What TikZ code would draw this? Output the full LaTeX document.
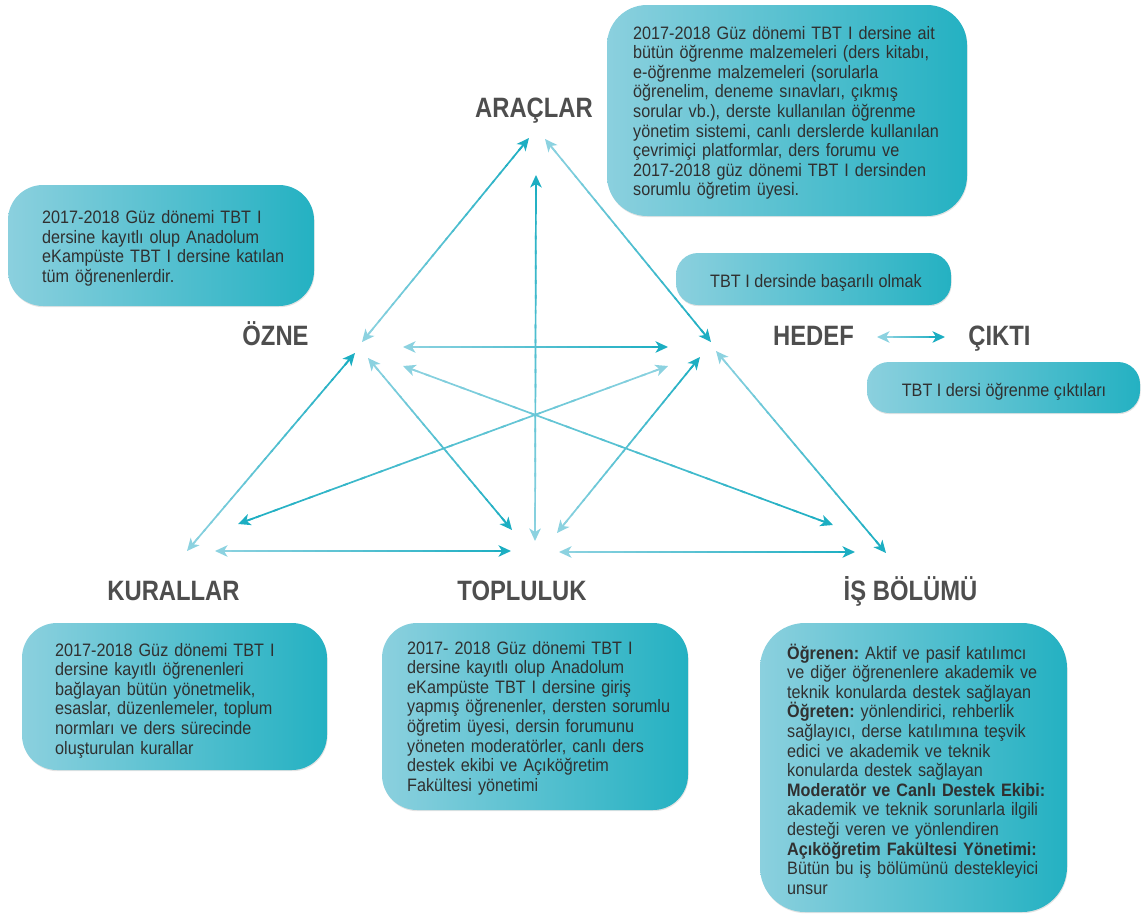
\documentclass[tikz,border=0pt]{standalone}
\usepackage{fontspec}
\setmainfont{Liberation Sans}[FakeStretch=0.9]
\newfontfamily\headfont{Liberation Sans}[FakeStretch=0.85]
\usetikzlibrary{arrows.meta,calc,shadows}

\definecolor{alight}{RGB}{140,210,224}
\definecolor{adark}{RGB}{28,174,194}
\definecolor{boxl}{RGB}{139,208,222}
\definecolor{boxr}{RGB}{36,177,194}
\definecolor{bodytext}{RGB}{48,48,48}
\definecolor{headtext}{RGB}{78,78,78}

\tikzset{
  panel/.style={rounded corners=#1, left color=boxl, right color=boxr, draw=none,
    inner sep=0pt,
    drop shadow={shadow xshift=0.6pt, shadow yshift=-1.2pt, opacity=0.22}},
  panel/.default=35pt,
  body/.style={font=\fontsize{18}{19.6}\selectfont, text=bodytext, align=left,
    text width=340pt, inner sep=0pt, anchor=base west},
  oneline/.style={font=\fontsize{18}{19.6}\selectfont, text=bodytext,
    inner sep=0pt, anchor=base},
  head/.style={font=\headfont\bfseries\fontsize{28}{30}\selectfont, text=headtext,
    inner sep=0pt, anchor=base},
  link/.style={line width=1.7pt},
}

% two-tone connector: light end #1, dark end #2
\newcommand\fadelink[2]{%
  \coordinate (fl-a) at ($(#1)!5pt!(#2)$);
  \coordinate (fl-b) at ($(#2)!5pt!(#1)$);
  \foreach \k in {0,...,23}{%
    \pgfmathsetmacro\ta{\k/24}%
    \pgfmathsetmacro\tb{min(1,(\k+1.25)/24)}%
    \pgfmathtruncatemacro\pc{100*(\k+0.5)/24}%
    \draw[link, draw=adark!\pc!alight] ($(fl-a)!\ta!(fl-b)$) -- ($(fl-a)!\tb!(fl-b)$);
  }%
  \draw[link, alight, ->] ($(#1)!16pt!(#2)$) -- (#1);
  \draw[link, adark, ->] ($(#2)!16pt!(#1)$) -- (#2);
}

\begin{document}
\begin{tikzpicture}[x=1pt, y=-1pt, >={Stealth[length=12.5pt,width=11.5pt,inset=3.5pt]}]
\useasboundingbox (0,0) rectangle (1143,913);

% ---------- description panels ----------
\node[panel=40pt, minimum width=360pt, minimum height=211pt] (b-arac) at (787,110.5) {};
\node[body] (t-arac) at (633,39) {2017-2018 Güz dönemi TBT I dersine ait\\
bütün öğrenme malzemeleri (ders kitabı,\\
e-öğrenme malzemeleri (sorularla\\
öğrenelim, deneme sınavları, çıkmış\\
sorular vb.), derste kullanılan öğrenme\\
yönetim sistemi, canlı derslerde kullanılan\\
çevrimiçi platformlar, ders forumu ve\\
2017-2018 güz dönemi TBT I dersinden\\
sorumlu öğretim üyesi.};

\node[panel=35pt, minimum width=306pt, minimum height=121pt] (b-ozne) at (161,245.5) {};
\node[body] (t-ozne) at (42,223.5) {2017-2018 Güz dönemi TBT I\\
dersine kayıtlı olup Anadolum\\
eKampüste TBT I dersine katılan\\
tüm öğrenenlerdir.};

\node[panel=22pt, minimum width=275pt, minimum height=52pt] (b-hedef) at (813.5,279) {};
\node[oneline] (t-hedef) at (816,287) {TBT I dersinde başarılı olmak};

\node[panel=22pt, minimum width=273pt, minimum height=51pt] (b-cikti) at (1003.5,387.5) {};
\node[oneline] (t-cikti) at (1004,396) {TBT I dersi öğrenme çıktıları};

\node[panel=35pt, minimum width=305pt, minimum height=147pt] (b-kural) at (174.5,696.5) {};
\node[body] (t-kural) at (55,656) {2017-2018 Güz dönemi TBT I\\
dersine kayıtlı öğrenenleri\\
bağlayan bütün yönetmelik,\\
esaslar, düzenlemeler, toplum\\
normları ve ders sürecinde\\
oluşturulan kurallar};

\node[panel=35pt, minimum width=306pt, minimum height=187pt] (b-toplu) at (535,716.5) {};
\node[body] (t-toplu) at (407,654) {2017- 2018 Güz dönemi TBT I\\
dersine kayıtlı olup Anadolum\\
eKampüste TBT I dersine giriş\\
yapmış öğrenenler, dersten sorumlu\\
öğretim üyesi, dersin forumunu\\
yöneten moderatörler, canlı ders\\
destek ekibi ve Açıköğretim\\
Fakültesi yönetimi};

\node[panel=45pt, minimum width=307pt, minimum height=289pt] (b-isbol) at (913.5,767.5) {};
\node[body] (t-isbol) at (787,659) {\textbf{Öğrenen:}~Aktif ve pasif katılımcı\\
ve diğer öğrenenlere akademik ve\\
teknik konularda destek sağlayan\\
\textbf{Öğreten:}~yönlendirici, rehberlik\\
sağlayıcı, derse katılımına teşvik\\
edici ve akademik ve teknik\\
konularda destek sağlayan\\
\textbf{Moderatör ve Canlı Destek Ekibi:}\\
akademik ve teknik sorunlarla ilgili\\
desteği veren ve yönlendiren\\
\textbf{Açıköğretim Fakültesi Yönetimi:}\\
Bütün bu iş bölümünü destekleyici\\
unsur};

% ---------- element headings ----------
\node[head] (araclar) at (534,117.5) {ARAÇLAR};
\node[head] (ozne) at (275.5,345) {ÖZNE};
\node[head] (hedef) at (813.5,345) {HEDEF};
\node[head] (cikti) at (999.5,345) {ÇIKTI};
\node[head] (kurallar) at (173.5,600) {KURALLAR};
\node[head] (topluluk) at (522,600) {TOPLULUK};
\node[head] (isbolumu) at (910.5,600) {İŞ BÖLÜMÜ};

% ---------- connector end points ----------
\coordinate (ar1) at (529,138);
\coordinate (ar2) at (545,139);
\coordinate (ar3) at (536,175);
\coordinate (oz1) at (362,342);
\coordinate (oz2) at (355,353);
\coordinate (oz3) at (368,358);
\coordinate (oz4) at (403,347);
\coordinate (oz5) at (403,366);
\coordinate (he1) at (711,342);
\coordinate (he2) at (668,347);
\coordinate (he3) at (668,366);
\coordinate (he4) at (700,357);
\coordinate (he5) at (716,351);
\coordinate (ku1) at (187,551);
\coordinate (ku2) at (238,524);
\coordinate (ku3) at (215,551);
\coordinate (to1) at (512,530);
\coordinate (to2) at (557,533);
\coordinate (to3) at (535,541);
\coordinate (to4) at (511,551);
\coordinate (to5) at (559,552);
\coordinate (is1) at (833,525);
\coordinate (is2) at (855,552);
\coordinate (is3) at (886,553);
\coordinate (hc1) at (877,337);
\coordinate (ci1) at (945,337);

% ---------- connectors ----------
\fadelink{oz1}{ar1}
\fadelink{ar2}{he1}
\fadelink{to3}{ar3}
\fadelink{ku1}{oz2}
\fadelink{oz3}{to1}
\fadelink{oz4}{he2}
\fadelink{oz5}{is1}
\fadelink{he3}{ku2}
\fadelink{to2}{he4}
\fadelink{ku3}{to4}
\fadelink{to5}{is2}
\fadelink{he5}{is3}
\fadelink{hc1}{ci1}
\end{tikzpicture}
\end{document}
